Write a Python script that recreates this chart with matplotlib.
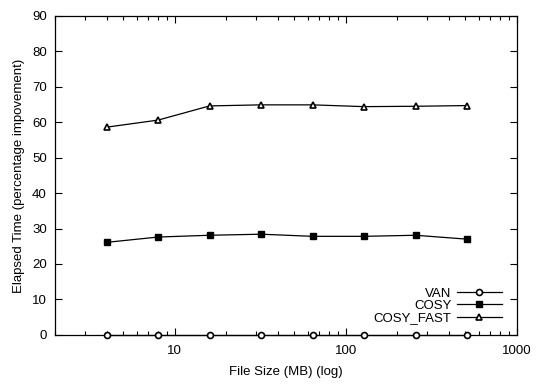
import matplotlib
matplotlib.use('Agg')
import matplotlib.pyplot as plt
from matplotlib.ticker import LogLocator, FixedLocator, NullFormatter

plt.rcParams['font.family'] = ['Liberation Sans', 'DejaVu Sans']

# 데이터
file_size = [4, 8, 16, 32, 64, 128, 256, 512]
van = [0, 0, 0, 0, 0, 0, 0, 0]
cosy = [26.1, 27.6, 28.1, 28.4, 27.8, 27.8, 28.1, 27.0]
cosy_fast = [58.6, 60.6, 64.6, 64.9, 64.9, 64.4, 64.5, 64.7]

fig = plt.figure(figsize=(5.4, 3.88), dpi=100)
ax = fig.add_axes([0.102, 0.137, 0.855, 0.822])

ax.plot(file_size, van, color='black', lw=0.9, marker='o', ms=4.3,
        mfc='white', mec='black', mew=1.2, label='VAN', clip_on=False, zorder=3)
ax.plot(file_size, cosy, color='black', lw=0.9, marker='s', ms=4.8,
        mfc='black', mec='black', label='COSY', zorder=3)
ax.plot(file_size, cosy_fast, color='black', lw=0.9, marker='^', ms=5,
        mfc='white', mec='black', mew=1.2, label='COSY_FAST', zorder=3)

ax.set_xscale('log')
ax.set_xlim(2, 1000)
ax.set_ylim(0, 90)
ax.set_yticks(range(0, 91, 10))
ax.xaxis.set_major_locator(FixedLocator([10, 100, 1000]))
ax.xaxis.set_minor_locator(LogLocator(base=10, subs=range(2, 10)))
ax.xaxis.set_minor_formatter(NullFormatter())
ax.set_xticklabels(['10', '100', '1000'])

ax.tick_params(which='both', direction='in', top=True, right=True,
               labelsize=9.5, width=0.8)
ax.tick_params(axis='x', pad=7)
ax.tick_params(axis='y', pad=6)
ax.tick_params(which='major', length=5)
ax.tick_params(which='minor', length=3)
for s in ax.spines.values():
    s.set_linewidth(0.9)

ax.set_xlabel('File Size (MB) (log)', fontsize=9.5, labelpad=7)
ax.set_ylabel('Elapsed Time (percentage impovement)', fontsize=9.5, labelpad=5)

ax.legend(loc='lower right', bbox_to_anchor=(0.99, 0.0), frameon=False,
          markerfirst=False, fontsize=9.5, handlelength=3.4, labelspacing=0.0,
          handletextpad=0.4, borderpad=0.3)

plt.savefig('out.png', dpi=100)
